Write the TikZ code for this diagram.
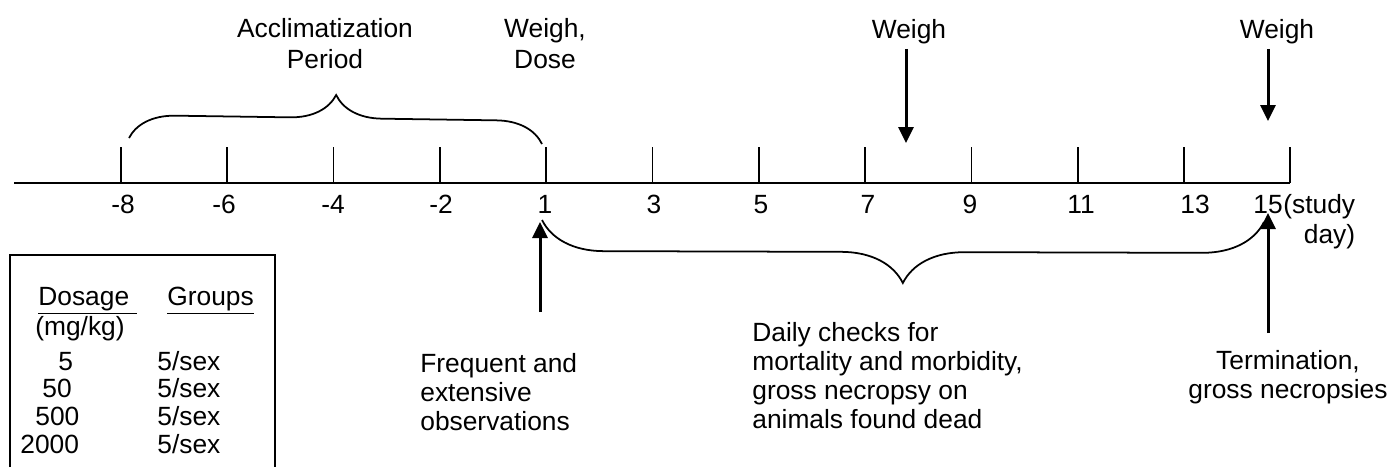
\documentclass[tikz,border=0pt]{standalone}
\usepackage{fontspec}
\setmainfont{Liberation Sans}
\usetikzlibrary{arrows.meta,positioning,decorations.pathreplacing}

\begin{document}
\begin{tikzpicture}[
    x=0.02cm, y=-0.02cm,
    lbl/.style={inner sep=0pt,font=\fontsize{15}{16.5}\selectfont},
    toplbl/.style={inner sep=0pt,font=\fontsize{15}{17.6}\selectfont,align=center},
    txtblock/.style={lbl,align=left},
    axisline/.style={line width=1.5pt},
    tickline/.style={line width=1pt},
    bracket/.style={decorate,decoration={brace,amplitude=#1},line width=1pt},
    arrow/.style={-{Triangle[length=3.2mm,width=3mm]},line width=1.7pt}
  ]
    \useasboundingbox (0,0) rectangle (1391,467);
    % study day axis
    \coordinate (axstart) at (14,183);
    \coordinate (axend) at (1290,183);
    \draw[axisline] (axstart) -- (axend);
    \foreach \i in {0,...,11}
      \draw[tickline] (121+106.3*\i,183) -- ++(0,-36);
    \foreach \d/\x [count=\n] in {-8/123,-6/224,-4/333,-2/441,1/545,3/654,5/761,7/868,9/970,11/1081,13/1195,15/1268}
      \node[lbl,anchor=base] (day\n) at (\x,213) {\d};
    \node[toplbl,align=right,anchor=base west] (studyday) at ([yshift=-17.6pt]day12.base east) {(study\\day)};
    % labels above the axis
    \node[toplbl,anchor=base] (acclim) at (325,68) {Acclimatization\\Period};
    \node[toplbl,anchor=base] (weighdose) at (545,68) {Weigh,\\Dose};
    \node[lbl,anchor=base] (weigh8) at (909,38) {Weigh};
    \node[lbl,anchor=base] (weigh15) at (1277,38) {Weigh};
    \coordinate (w8tip) at (906,143);
    \coordinate (w15tip) at (1268,121);
    \draw[arrow,shorten <=1mm] (weigh8.south -| w8tip) -- (w8tip);
    \draw[arrow,shorten <=1mm] (weigh15.south -| w15tip) -- (w15tip);
    \draw[bracket=0.92cm] (129,138) -- (542,144);
    % labels below the axis
    \coordinate (obsfoot) at (540,312);
    \coordinate (obstip) at (540,222);
    \coordinate (termfoot) at (1268,333);
    \coordinate (termtip) at (1268,213);
    \draw[arrow] (obsfoot) -- (obstip);
    \draw[arrow] (termfoot) -- (termtip);
    \draw[bracket=1.24cm] (1264,222) -- (542,220);
    \node[txtblock,anchor=base west] (obs) at (420,430) {Frequent and\\extensive\\observations};
    \node[txtblock,anchor=base west] (checks) at (752,428) {Daily checks for\\mortality and morbidity,\\gross necropsy on\\animals found dead};
    \node[lbl,align=center,anchor=base] (term) at (1288,398) {Termination,\\gross necropsies};
    % dosage table
    \draw[tickline] (10,467) -- (10,255) -- (275,255) -- (275,467);
    \node[lbl,anchor=base west] (dosehead) at (38,305) {\underline{Dosage~}};
    \node[lbl,anchor=base west] (grouphead) at (167,305) {\underline{Groups}};
    \node[lbl,anchor=base west] (unit) at (35,335) {(mg/kg)};
    \foreach \lvl/\x/\y in {5/58/370,50/42/397,500/35/425,2000/20/453} {
      \node[lbl,anchor=base west] (lvl\lvl) at (\x,\y) {\lvl};
      \node[lbl,anchor=base west] (grp\lvl) at (157,\y) {5/sex};
    }
  \end{tikzpicture}
\end{document}
